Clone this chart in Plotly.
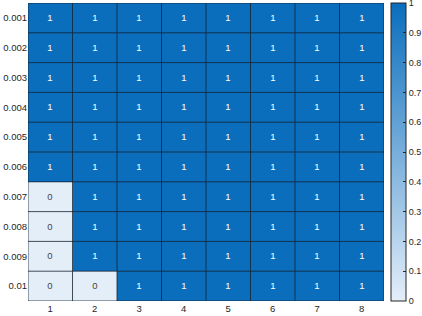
import plotly.graph_objects as go

x_labels = ["1", "2", "3", "4", "5", "6", "7", "8"]
y_labels = ["0.001", "0.002", "0.003", "0.004", "0.005", "0.006", "0.007", "0.008", "0.009", "0.01"]
z = [
    [1, 1, 1, 1, 1, 1, 1, 1],
    [1, 1, 1, 1, 1, 1, 1, 1],
    [1, 1, 1, 1, 1, 1, 1, 1],
    [1, 1, 1, 1, 1, 1, 1, 1],
    [1, 1, 1, 1, 1, 1, 1, 1],
    [1, 1, 1, 1, 1, 1, 1, 1],
    [0, 1, 1, 1, 1, 1, 1, 1],
    [0, 1, 1, 1, 1, 1, 1, 1],
    [0, 1, 1, 1, 1, 1, 1, 1],
    [0, 0, 1, 1, 1, 1, 1, 1],
]
cbar_ticks = [0, 0.1, 0.2, 0.3, 0.4, 0.5, 0.6, 0.7, 0.8, 0.9, 1]

nx, ny = len(x_labels), len(y_labels)
xi = list(range(nx))
yi = list(range(ny))

fig = go.Figure(go.Heatmap(
    z=z, x=xi, y=yi,
    zmin=0, zmax=1,
    colorscale=[[0, "#e4eef9"], [1, "#0a6ebd"]],
    showscale=True,
    colorbar=dict(
        x=1.02, xanchor="left", xref="paper",
        y=0.5, yanchor="middle", len=1.0, lenmode="fraction",
        thickness=15, thicknessmode="pixels",
        outlinecolor="#262626", outlinewidth=1,
        tickvals=cbar_ticks, ticktext=[f"{v:g}" for v in cbar_ticks],
        ticks="inside", ticklen=3, tickcolor="#262626",
        tickfont=dict(size=9, color="#262626"),
        ticklabeloverflow="allow",
        xpad=0, ypad=0,
    ),
    texttemplate="%{z}",
    textfont=dict(size=9.5, family="Liberation Sans, Arial"),
    hoverinfo="skip",
))

shapes = []
line_col = "rgba(20,35,50,0.8)"
for i in range(nx + 1):
    shapes.append(dict(type="line", xref="x", yref="y",
                       x0=i - 0.5, x1=i - 0.5, y0=-0.5, y1=ny - 0.5,
                       line=dict(color=line_col, width=1), layer="above"))
for j in range(ny + 1):
    shapes.append(dict(type="line", xref="x", yref="y",
                       x0=-0.5, x1=nx - 0.5, y0=j - 0.5, y1=j - 0.5,
                       line=dict(color=line_col, width=1), layer="above"))

fig.update_layout(
    width=422, height=316,
    margin=dict(l=28, r=38, t=3, b=15, autoexpand=False),
    paper_bgcolor="white", plot_bgcolor="white",
    font=dict(family="Liberation Sans, Arial", size=10, color="#262626"),
    shapes=shapes,
    xaxis=dict(tickvals=xi, ticktext=x_labels, range=[-0.5, nx - 0.5],
               showgrid=False, zeroline=False, ticks="", ticklen=0,
               automargin=False,
               tickfont=dict(size=9.5, color="#262626")),
    yaxis=dict(tickvals=yi, ticktext=y_labels, range=[ny - 0.5, -0.5],
               showgrid=False, zeroline=False, ticks="", ticklen=0,
               automargin=False,
               tickfont=dict(size=9.5, color="#262626")),
)

fig.write_html("out.html", config={"displayModeBar": False},
               post_script="document.body.style.margin='0';document.body.style.padding='0';")
